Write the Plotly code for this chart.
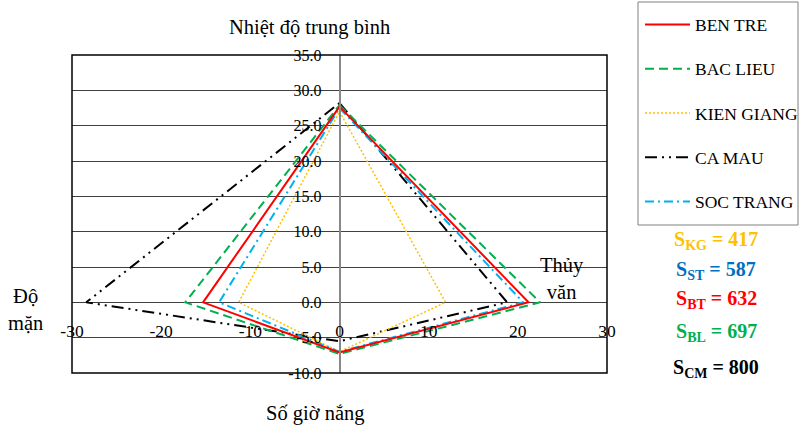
import plotly.graph_objects as go

W, H = 799, 429
ML, MR, MT, MB = 72, 192, 55, 56
PW, PH = W - ML - MR, H - MT - MB

def px(x):
    return (x - ML) / PW

def py(y):
    return (H - MB - y) / PH

names = ["BEN TRE", "BAC LIEU", "KIEN GIANG", "CA MAU", "SOC TRANG"]
temp = [27.7, 27.9, 27.0, 28.2, 27.5]        # Nhiệt độ trung bình (top)
hydro = [21.2, 22.5, 11.9, 18.8, 20.6]       # Thủy văn (right)
sun = [-7.1, -7.3, -7.0, -5.5, -7.0]         # Số giờ nắng (bottom)
salinity = [-15.3, -17.3, -11.3, -28.4, -13.5]  # Độ mặn (left)

colors = ["#FF0000", "#00B050", "#FFC000", "#000000", "#00B0F0"]
dashes = ["solid", "9px,5px", "2px,2px", "12px,5px,2px,5px,2px,5px", "9px,4px,2px,4px"]
widths = [2, 2, 1.5, 2, 2]

x_ticks = [-30, -20, -10, 0, 10, 20, 30]
y_ticks = [-10, -5, 0, 5, 10, 15, 20, 25, 30, 35]

area_labels = ["S<sub>KG</sub> = 417", "S<sub>ST</sub> = 587", "S<sub>BT</sub> = 632",
               "S<sub>BL</sub> = 697", "S<sub>CM</sub> = 800"]
area_colors = ["#FFC000", "#0070C0", "#FF0000", "#00B050", "#000000"]

FONT = "Liberation Serif"

fig = go.Figure()
draw_order = [3, 1, 2, 4, 0]
for i in draw_order:
    xs = [0, hydro[i], 0, salinity[i], 0]
    ys = [temp[i], 0, sun[i], 0, temp[i]]
    fig.add_trace(go.Scatter(
        x=xs, y=ys, mode="lines", name=names[i],
        line=dict(color=colors[i], dash=dashes[i], width=widths[i]),
        legendrank=i + 1, legendgroup=names[i],
    ))

fig.update_layout(
    width=W, height=H,
    margin=dict(l=ML, r=MR, t=MT, b=MB),
    paper_bgcolor="white", plot_bgcolor="white",
    font=dict(family=FONT, size=14, color="#000000"),
    showlegend=True,
    legend=dict(
        xref="container", yref="container",
        x=640 / W, y=1 - 6.5 / H, xanchor="left", yanchor="top",
        font=dict(family=FONT, size=17.5, color="#000000"),
        tracegroupgap=18.5, itemwidth=45, maxheight=1.0,
        bgcolor="rgba(0,0,0,0)", borderwidth=0,
    ),
    xaxis=dict(
        range=[-30, 30], tickvals=x_ticks, ticktext=[str(v) for v in x_ticks],
        showgrid=False, zeroline=False, showline=False,
        anchor="free", position=py(318), ticks="",
        tickfont=dict(family=FONT, size=17.5),
    ),
    yaxis=dict(
        range=[-10, 35], tickvals=y_ticks, ticktext=[f"{v:.1f}" for v in y_ticks],
        showgrid=True, gridcolor="#404040", gridwidth=1,
        zeroline=False, showline=True, linecolor="#888888", linewidth=1.5,
        anchor="free", position=0.5,
        ticks="outside", ticklen=14, tickcolor="rgba(0,0,0,0)",
        tickfont=dict(family=FONT, size=16),
    ),
)

# plot-area border
fig.add_shape(type="rect", xref="paper", yref="paper", x0=0, x1=1, y0=0, y1=1,
              line=dict(color="#000000", width=1.5))
# legend border
fig.add_shape(type="rect", xref="paper", yref="paper",
              x0=px(638), x1=px(798), y0=py(2), y1=py(225),
              line=dict(color="#808080", width=1))

def ann(text, x, y, size=20.5, color="#000000", xanchor="center"):
    fig.add_annotation(text=text, x=px(x), y=py(y), xref="paper", yref="paper",
                       xanchor=xanchor, yanchor="middle", showarrow=False,
                       font=dict(family=FONT, size=size, color=color))

ann("Nhiệt độ trung bình", 309, 27)
ann("Thủy<br>văn", 538, 278, xanchor="left")
ann("Độ<br>mặn", 6, 309, xanchor="left")
ann("Số giờ nắng", 315, 413)

ys_area = [240, 270, 299, 332, 368]
for t, c, yy in zip(area_labels, area_colors, ys_area):
    ann("<b>" + t + "</b>", 716, yy, size=20, color=c)

fig.write_html("out.html")
